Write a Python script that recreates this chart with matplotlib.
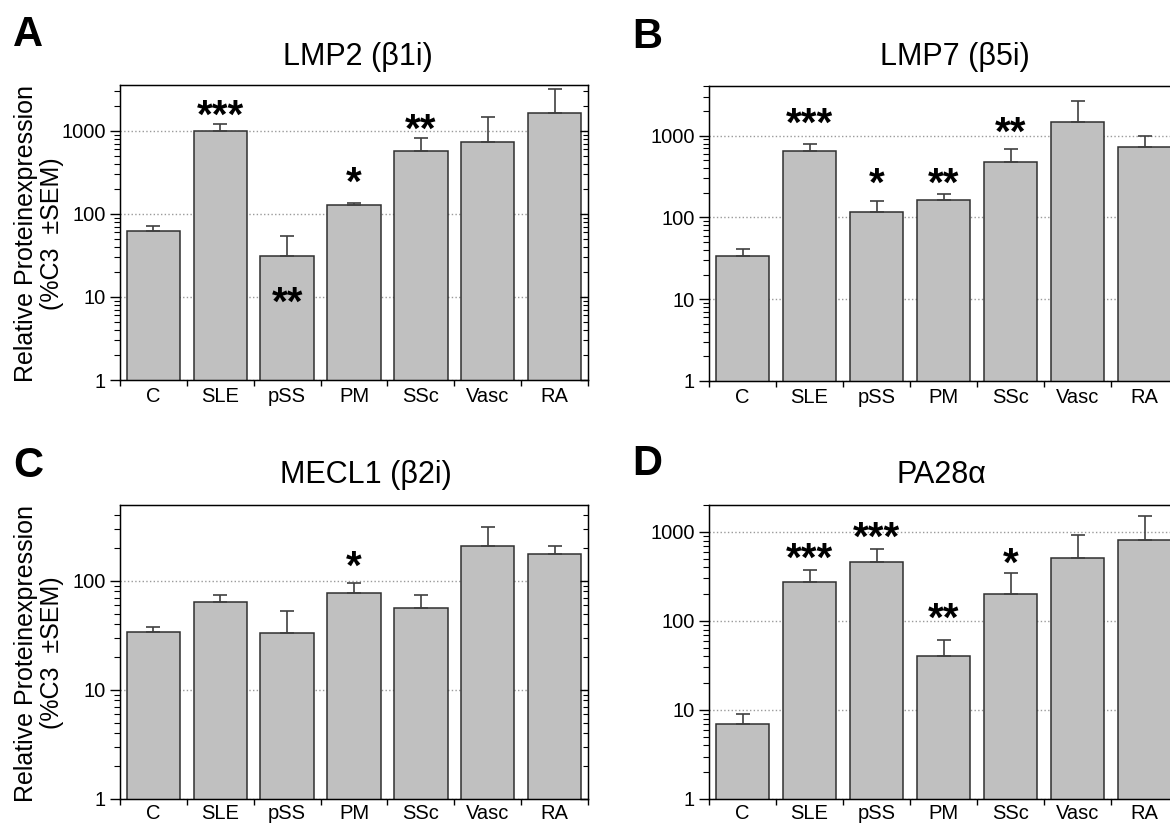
import matplotlib
matplotlib.use("Agg")
import matplotlib.pyplot as plt
import numpy as np
from matplotlib import ticker

plt.rcParams['font.family'] = ['Liberation Sans', 'DejaVu Sans']

# ---------------- data ----------------
categories = ['C', 'SLE', 'pSS', 'PM', 'SSc', 'Vasc', 'RA']

lmp2_mean = [62, 990, 31, 127, 575, 731, 1662]
lmp2_sem = [10, 235, 24, 7, 241, 730, 1515]

lmp7_mean = [33.7, 649, 115, 161, 472, 1466, 735]
lmp7_sem = [7.7, 149, 44, 30, 215, 1206, 245]

mecl1_mean = [33.7, 63.4, 33, 77.6, 56.3, 209, 175.6]
mecl1_sem = [4.1, 10, 19.5, 17.7, 17.1, 100, 33.4]

pa28_mean = [6.92, 273, 454, 40.2, 202, 506, 807]
pa28_sem = [2.1, 97, 186, 20.5, 146, 419, 686]

# significance marks: (category index, label, y position of mark centre)
lmp2_stars = [(1, '***', 2000), (2, '**', 11.3), (3, '*', 312), (4, '**', 1358)]
lmp7_stars = [(1, '***', 1871), (2, '*', 347), (3, '**', 347), (4, '**', 1425)]
mecl1_stars = [(3, '*', 167)]
pa28_stars = [(1, '***', 656), (2, '***', 1129), (3, '**', 136), (4, '*', 568)]

titles = ['LMP2 (\u03b21i)', 'LMP7 (\u03b25i)', 'MECL1 (\u03b22i)', 'PA28\u03b1']
panel_letters = ['A', 'B', 'C', 'D']
ytick_vals = [1, 10, 100, 1000]
ytick_labels = ['1', '10', '100', '1000']
ylabel = 'Relative Proteinexpression\n(%C3  \u00b1SEM)'

# ---------------- layout (pixels) ----------------
W, H = 1170, 825
fig = plt.figure(figsize=(W / 100, H / 100), dpi=100)


def fx(px):
    return px / W


def fy(py):
    return 1 - py / H


panels = [
    dict(box=(120, 85, 588, 380), ymax=3580, mean=lmp2_mean, sem=lmp2_sem, stars=lmp2_stars,
         title_xy=(358, 65), letter_xy=(13, 46), ylab=True, xpad=5),
    dict(box=(709, 86, 1178, 381), ymax=4040, mean=lmp7_mean, sem=lmp7_sem, stars=lmp7_stars,
         title_xy=(955, 65), letter_xy=(632, 48), ylab=False, xpad=5),
    dict(box=(120, 505, 588, 799), ymax=494, mean=mecl1_mean, sem=mecl1_sem, stars=mecl1_stars,
         title_xy=(366, 483), letter_xy=(13, 477), ylab=True, xpad=3.5),
    dict(box=(709, 505, 1178, 799), ymax=2005, mean=pa28_mean, sem=pa28_sem, stars=pa28_stars,
         title_xy=(941, 483), letter_xy=(632, 475), ylab=False, xpad=3.5),
]

bar_color = '#c0c0c0'
edge_color = '#303030'

for i, p in enumerate(panels):
    l, t, r, b = p['box']
    ax = fig.add_axes([fx(l), fy(b), fx(r) - fx(l), fy(t) - fy(b)])
    x = np.arange(len(categories))
    ax.set_yscale('log')
    ax.set_ylim(1, p['ymax'])
    ax.set_xlim(-0.5, len(categories) - 0.5)

    ax.set_axisbelow(True)
    ax.yaxis.grid(True, which='major', linestyle=':', color='#9a9a9a', linewidth=1.0)

    ax.bar(x, p['mean'], width=0.8, color=bar_color, edgecolor=edge_color,
           linewidth=1.1, zorder=2)
    ax.errorbar(x, p['mean'], yerr=[np.zeros(len(x)), p['sem']], fmt='none',
                ecolor='#404040', elinewidth=1.2, capsize=5, capthick=1.2, zorder=3)

    for idx, lab, yv in p['stars']:
        ax.annotate(lab, xy=(idx, yv), xytext=(0, -16), textcoords='offset points',
                    ha='center', va='baseline', fontsize=29, fontweight='bold', zorder=4)

    # x axis: labels at centres, ticks at boundaries
    ax.set_xticks(x)
    ax.set_xticklabels(categories, fontsize=14.5)
    ax.set_xticks(np.arange(len(categories) + 1) - 0.5, minor=True)
    ax.tick_params(axis='x', which='major', length=0, pad=p['xpad'])
    ax.tick_params(axis='x', which='minor', length=4, width=1, direction='out')

    nt = len([v for v in ytick_vals if v <= p['ymax']])
    ax.set_yticks(ytick_vals[:nt])
    ax.set_yticklabels(ytick_labels[:nt], fontsize=14.5)
    ax.yaxis.set_minor_locator(ticker.LogLocator(base=10, subs=np.arange(2, 10)))
    ax.yaxis.set_minor_formatter(ticker.NullFormatter())
    ax.tick_params(axis='y', which='major', length=7, width=1, direction='out', pad=3)
    ax.tick_params(axis='y', which='minor', length=4, width=0.8, direction='out')

    for s in ax.spines.values():
        s.set_linewidth(1.0)
        s.set_color('black')

    # right-side inward ticks
    ax2 = ax.twinx()
    ax2.set_yscale('log')
    ax2.set_ylim(1, p['ymax'])
    ax2.set_yticks(ax.get_yticks())
    ax2.yaxis.set_minor_locator(ticker.LogLocator(base=10, subs=np.arange(2, 10)))
    ax2.yaxis.set_major_formatter(ticker.NullFormatter())
    ax2.yaxis.set_minor_formatter(ticker.NullFormatter())
    ax2.tick_params(axis='y', which='major', length=6, width=1, direction='in')
    ax2.tick_params(axis='y', which='minor', length=3.5, width=0.8, direction='in')
    ax2.set_ylim(1, p['ymax'])

    # title and panel letter
    tx, ty = p['title_xy']
    fig.text(fx(tx), fy(ty), titles[i], ha='center', va='baseline', fontsize=22)
    lx, ly = p['letter_xy']
    fig.text(fx(lx), fy(ly), panel_letters[i], ha='left', va='baseline',
             fontsize=30, fontweight='bold')

    if p['ylab']:
        fig.text(fx(39), fy((t + b) / 2 + 1), ylabel, rotation=90, ha='center', va='center',
                 fontsize=18, linespacing=1.15)

fig.savefig('out.png', dpi=100)
